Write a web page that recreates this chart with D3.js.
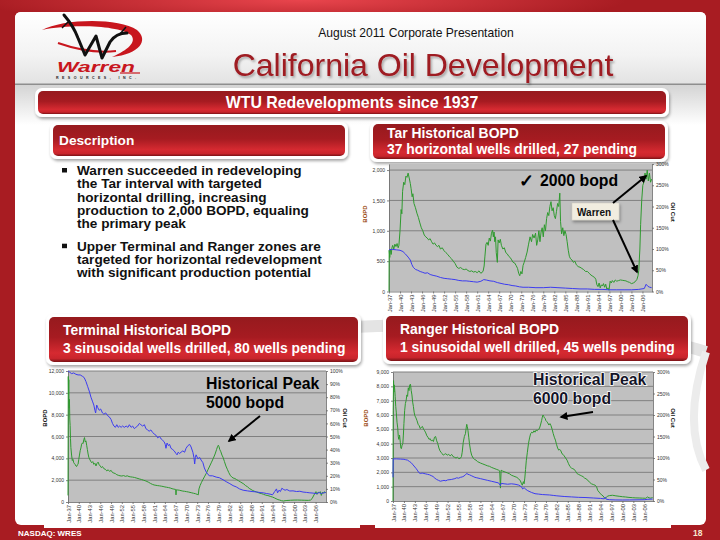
<!DOCTYPE html>
<html><head><meta charset="utf-8">
<script src="https://cdn.jsdelivr.net/npm/d3@7"></script>
<style>
body{margin:0;background:#a81c22}
svg{display:block}
text{font-family:"Liberation Sans",Arial,Helvetica,sans-serif}
</style>
</head><body>
<svg id="s" width="720" height="540"></svg>
<script>
// ---------------- DATA ----------------
const xTickYears = [1937,1940,1943,1946,1949,1952,1955,1958,1961,1964,1967,1970,1973,1976,1979,1982,1985,1988,1991,1994,1997,2000,2003,2006];
const xTickLabels = ["Jan-37","Jan-40","Jan-43","Jan-46","Jan-49","Jan-52","Jan-55","Jan-58","Jan-61","Jan-64","Jan-67","Jan-70","Jan-73","Jan-76","Jan-79","Jan-82","Jan-85","Jan-88","Jan-91","Jan-94","Jan-97","Jan-00","Jan-03","Jan-06"];

const tarLeftTicks = [0,500,1000,1500,2000];
const tarRightTicks = [0,50,100,150,200,250,300];
const termLeftTicks = [0,2000,4000,6000,8000,10000,12000];
const termRightTicks = [0,10,20,30,40,50,60,70,80,90,100];
const rangerLeftTicks = [0,1000,2000,3000,4000,5000,6000,7000,8000,9000];
const rangerRightTicks = [0,50,100,150,200,250,300];

// Tar: [year, BOPD]
const tarBopd = [[1937.0,0],[1937.05,680],[1937.2,560],[1937.4,700],[1937.6,610],[1937.8,720],[1938.0,760],[1938.3,700],[1938.6,780],[1938.9,740],[1939.2,790],[1939.5,720],[1939.7,760],[1940.0,1000],[1940.3,1350],[1940.5,1280],[1940.7,1650],[1941.0,1800],[1941.3,1760],[1941.6,1900],[1941.9,1880],[1942.2,1950],[1942.5,1870],[1942.8,1780],[1943.0,1700],[1943.3,1560],[1943.5,1610],[1943.8,1450],[1944.2,1380],[1944.6,1290],[1945.0,1220],[1945.4,1130],[1945.8,1050],[1946.2,1000],[1946.6,930],[1947.0,900],[1947.4,880],[1947.8,850],[1948.2,870],[1948.6,820],[1949.0,780],[1949.4,800],[1949.8,760],[1950.2,740],[1950.6,760],[1951.0,700],[1951.5,720],[1952.0,670],[1952.5,640],[1953.0,610],[1953.5,570],[1954.0,540],[1954.5,500],[1955.0,460],[1955.5,400],[1956.0,380],[1956.5,395],[1957.0,370],[1957.5,360],[1958.0,370],[1958.5,345],[1959.0,330],[1959.5,340],[1960.0,320],[1960.5,330],[1961.0,310],[1961.5,340],[1962.0,300],[1962.6,330],[1962.9,420],[1963.1,570],[1963.4,780],[1963.7,810],[1964.0,760],[1964.3,880],[1964.6,830],[1964.9,960],[1965.2,1010],[1965.4,900],[1965.6,980],[1965.8,820],[1966.0,900],[1966.2,640],[1966.5,480],[1966.7,850],[1967.0,800],[1967.3,860],[1967.6,760],[1968.0,700],[1968.4,720],[1968.8,640],[1969.2,620],[1969.6,580],[1970.0,560],[1970.4,520],[1970.8,480],[1971.2,470],[1971.6,430],[1972.0,380],[1972.3,300],[1972.6,260],[1972.9,330],[1973.2,290],[1973.5,430],[1973.8,480],[1974.2,560],[1974.6,650],[1975.0,780],[1975.4,900],[1975.8,820],[1976.1,940],[1976.5,880],[1976.9,960],[1977.2,760],[1977.5,850],[1977.8,1000],[1978.1,820],[1978.4,980],[1978.7,1050],[1979.0,900],[1979.3,1100],[1979.6,1000],[1979.9,1200],[1980.2,1300],[1980.5,1250],[1980.8,1400],[1981.1,1480],[1981.4,1330],[1981.7,1380],[1982.0,1250],[1982.3,1200],[1982.6,1320],[1982.9,1450],[1983.2,1400],[1983.5,1620],[1983.7,1150],[1984.0,950],[1984.3,1050],[1984.6,920],[1984.9,1000],[1985.2,940],[1985.5,820],[1985.8,680],[1986.1,580],[1986.4,540],[1986.8,520],[1987.2,480],[1987.6,500],[1988.0,440],[1988.5,410],[1989.0,400],[1989.5,380],[1990.0,360],[1990.5,330],[1991.0,330],[1991.5,300],[1992.0,270],[1992.5,250],[1993.0,230],[1993.3,200],[1993.6,110],[1993.9,80],[1994.2,140],[1994.5,60],[1994.8,110],[1995.1,90],[1995.4,130],[1995.7,70],[1996.0,120],[1996.3,40],[1996.6,60],[1996.9,20],[1997.2,170],[1997.5,140],[1997.8,180],[1998.2,150],[1998.6,190],[1999.0,170],[1999.5,180],[2000.0,190],[2000.5,185],[2001.0,180],[2001.5,175],[2002.0,160],[2002.5,150],[2003.0,130],[2003.5,140],[2004.0,160],[2004.5,200],[2004.8,260],[2005.0,350],[2005.3,700],[2005.5,1100],[2005.8,1500],[2006.1,1750],[2006.4,1800],[2006.7,1950],[2007.0,1850],[2007.3,2000],[2007.6,1820],[2007.9,1950],[2008.2,1800],[2008.5,1850]];
// Tar: [year, oil cut %]
const tarCut = [[1937.02,98],[1938,99],[1939,98],[1940,97],[1940.8,94],[1941.5,88],[1942.2,81],[1942.8,74],[1943.2,64],[1943.6,57],[1944.2,52],[1944.8,50],[1945.5,47],[1946.2,45],[1946.8,43],[1947.5,44],[1948.2,40],[1949,38],[1950,36],[1951,33],[1952,31],[1953,30],[1954,29],[1955,28],[1956,26],[1957,25],[1958,25],[1959,24],[1960,23],[1961,22],[1962,24],[1962.8,28],[1963.5,27],[1964.5,25],[1965.5,24],[1966.5,21],[1967.5,19],[1968.5,17],[1969.5,16],[1970.5,14],[1971.5,13],[1972.5,11],[1973.5,10],[1975,10],[1977,9],[1979,9],[1981,10],[1983,9],[1985,8],[1987,7],[1989,6],[1991,6],[1993,5],[1995,5],[1997,4],[1999,4],[2001,4],[2003,4],[2005,5],[2006.5,7],[2007,17],[2007.5,12],[2008,10],[2008.5,9]];

// Terminal: [year, BOPD]
const termBopd = [[1937.0,600],[1937.08,11500],[1937.15,9800],[1937.22,11200],[1937.3,8600],[1937.4,9400],[1937.5,7600],[1937.6,7000],[1937.7,5800],[1937.8,5000],[1938.0,4300],[1938.2,3800],[1938.4,3900],[1938.6,3600],[1938.8,3500],[1939.0,3450],[1939.2,3300],[1939.4,3250],[1939.6,3400],[1939.8,3450],[1940.0,3900],[1940.2,4300],[1940.4,4700],[1940.6,4950],[1940.8,5300],[1941.0,5400],[1941.2,5350],[1941.4,5700],[1941.6,5900],[1941.8,5500],[1942.0,5600],[1942.2,5200],[1942.4,4800],[1942.6,4400],[1942.8,4100],[1943.0,3950],[1943.3,3750],[1943.6,3600],[1943.9,3700],[1944.2,3450],[1944.5,3550],[1944.8,3300],[1945.1,3550],[1945.4,3650],[1945.7,3400],[1946.0,3300],[1946.3,3150],[1946.6,3250],[1947.0,3050],[1947.4,3000],[1947.8,2850],[1948.2,2950],[1948.6,2800],[1949.0,2900],[1949.4,2700],[1949.8,2650],[1950.2,2600],[1950.6,2500],[1951.0,2450],[1951.5,2400],[1952.0,2380],[1952.5,2420],[1953.0,2350],[1953.5,2400],[1954.0,2330],[1954.5,2300],[1955.0,2280],[1955.5,2250],[1956.0,2200],[1956.5,2150],[1957.0,2100],[1957.5,2060],[1958.0,2000],[1958.5,1950],[1959.0,1880],[1959.5,1800],[1960.0,1700],[1960.5,1620],[1961.0,1560],[1961.5,1530],[1962.0,1500],[1962.5,1480],[1963.0,1450],[1963.5,1420],[1964.0,1380],[1964.5,1350],[1965.0,1320],[1965.5,1280],[1966.0,1220],[1966.5,1180],[1967.0,1150],[1967.1,650],[1967.2,1120],[1967.6,1100],[1968.0,1080],[1968.5,1040],[1969.0,1000],[1969.5,980],[1970.0,950],[1970.5,920],[1971.0,880],[1971.5,840],[1972.0,800],[1972.5,760],[1973.0,700],[1973.3,650],[1973.5,1200],[1973.8,1500],[1974.2,1800],[1974.6,2050],[1975.0,2300],[1975.5,2600],[1976.0,2950],[1976.5,3300],[1977.0,3650],[1977.5,4000],[1978.0,4400],[1978.4,4800],[1978.7,5100],[1978.9,5200],[1979.1,5050],[1979.3,4800],[1979.6,4600],[1979.9,4300],[1980.2,4100],[1980.6,3700],[1981.0,3300],[1981.4,3000],[1981.8,2700],[1982.2,2450],[1982.6,2300],[1983.0,2200],[1983.5,2150],[1984.0,2050],[1984.5,1950],[1985.0,1850],[1985.5,1750],[1986.0,1650],[1986.5,1500],[1987.0,1400],[1987.5,1250],[1988.0,1150],[1988.5,1050],[1989.0,980],[1989.5,920],[1990.0,860],[1990.5,800],[1991.0,760],[1991.5,700],[1992.0,640],[1992.5,600],[1993.0,560],[1993.5,500],[1994.0,450],[1994.5,380],[1995.0,300],[1995.5,220],[1996.0,180],[1996.5,120],[1997.0,90],[1997.5,120],[1998.0,140],[1999.0,160],[2000.0,175],[2001.0,180],[2002.0,170],[2003.0,160],[2004.0,150],[2004.6,180],[2005.0,300],[2005.4,550],[2005.8,800],[2006.1,950],[2006.4,700],[2006.7,900],[2007.0,850],[2007.3,950],[2007.6,600],[2007.9,900],[2008.2,800],[2008.5,950],[2008.8,850]];
// Terminal: [year, oil cut %]
const termCut = [[1937.0,100],[1937.5,99],[1938.0,98],[1938.6,98.5],[1939.2,97.5],[1939.8,97],[1940.4,97],[1941.0,96],[1941.5,95],[1942.0,92],[1942.5,88],[1943.0,84],[1943.4,80],[1943.8,77],[1944.2,74],[1944.5,70],[1944.7,68],[1945.0,74],[1945.3,72],[1945.7,70],[1946.1,71],[1946.6,68],[1947.0,67],[1947.5,68],[1948.0,66],[1948.5,65],[1949.0,63],[1949.4,60],[1949.8,58],[1950.2,57],[1950.6,59],[1951.0,57],[1951.4,58],[1951.8,57],[1952.2,58],[1952.7,57],[1953.2,58],[1953.7,57],[1954.1,59],[1954.6,57],[1955.0,58],[1955.5,56],[1955.9,57],[1956.4,58],[1956.9,60],[1957.3,59],[1957.8,58],[1958.3,59],[1958.7,56],[1959.2,55],[1959.6,54],[1960.1,55],[1960.6,53],[1961.0,52],[1961.5,51],[1962.0,49],[1962.5,50],[1963.0,48],[1963.4,47],[1963.8,46],[1964.1,44],[1964.3,41],[1964.6,45],[1965.0,43],[1965.3,44],[1965.7,41],[1966.2,40],[1966.6,39],[1967.1,37],[1967.4,36],[1967.7,38],[1968.1,37],[1968.5,38],[1969.0,39],[1969.5,38],[1969.9,41],[1970.4,43],[1970.9,44],[1971.3,42],[1971.8,38],[1972.1,34],[1972.3,29],[1972.5,34],[1972.7,36],[1973.2,33],[1973.7,34],[1974.1,32],[1974.6,30],[1975.0,26],[1975.5,23],[1976.0,21],[1976.5,20],[1977.3,20],[1978.3,19],[1979.2,18.5],[1980.2,17],[1981.1,15.5],[1982.1,14],[1983.0,12.5],[1983.9,11.5],[1984.8,10],[1985.8,9],[1987.0,8.5],[1988.3,8],[1989.5,7.7],[1990.5,7.2],[1991.4,7],[1992.3,6.5],[1993.3,6],[1994.0,5.5],[1994.6,8],[1995.1,10],[1995.4,7],[1995.8,9],[1996.2,8],[1996.6,10.5],[1997.0,9.7],[1997.5,9],[1998.0,9.5],[1998.8,8.4],[1999.7,8.5],[2000.7,8],[2001.6,8.2],[2002.5,7.6],[2003.5,7.3],[2004.4,7],[2005.3,6.8],[2006.3,6.4],[2007.0,7.2],[2007.6,6.5],[2008.2,7],[2008.8,7.2]];

// Ranger: [year, BOPD]
const rangerBopd = [[1937.0,0],[1937.05,6300],[1937.15,8400],[1937.25,7600],[1937.35,8100],[1937.5,7700],[1937.6,7300],[1937.75,6600],[1937.9,6200],[1938.1,5500],[1938.3,5100],[1938.45,4500],[1938.6,4300],[1938.8,4600],[1939.0,4100],[1939.15,3700],[1939.3,3650],[1939.5,3900],[1939.7,4000],[1939.85,4600],[1940.0,5400],[1940.2,6300],[1940.4,6800],[1940.6,7000],[1940.8,7400],[1941.0,7300],[1941.2,7900],[1941.4,7700],[1941.6,8100],[1941.8,8150],[1942.0,7700],[1942.2,7400],[1942.4,6900],[1942.6,6600],[1942.8,6200],[1943.0,5950],[1943.3,5800],[1943.6,5600],[1943.9,5350],[1944.2,5250],[1944.5,5050],[1944.8,5150],[1945.1,5200],[1945.4,5000],[1945.7,4900],[1946.0,4750],[1946.3,4550],[1946.6,4450],[1946.9,4300],[1947.2,4350],[1947.5,4200],[1947.8,4250],[1948.1,4150],[1948.4,4450],[1948.7,4500],[1949.0,4200],[1949.3,4000],[1949.6,3700],[1949.9,3500],[1950.2,3400],[1950.5,3300],[1950.8,3200],[1951.1,3250],[1951.5,3300],[1951.9,3200],[1952.3,3250],[1952.7,3150],[1953.1,3250],[1953.5,3100],[1953.9,3050],[1954.3,3000],[1954.7,3050],[1955.1,2950],[1955.5,2980],[1955.8,3100],[1956.0,3400],[1956.3,4100],[1956.6,4500],[1956.9,4700],[1957.1,5100],[1957.25,5350],[1957.4,5200],[1957.6,4900],[1957.8,4450],[1958.0,4000],[1958.3,3500],[1958.6,3200],[1959.0,3000],[1959.4,2900],[1959.8,2850],[1960.2,2750],[1960.6,2700],[1961.0,2650],[1961.5,2600],[1962.0,2550],[1962.5,2500],[1963.0,2450],[1963.5,2420],[1964.0,2350],[1964.5,2300],[1965.0,2250],[1965.5,2200],[1966.0,2150],[1966.3,2100],[1966.5,900],[1966.7,2150],[1967.0,2100],[1967.5,2050],[1968.0,2000],[1968.5,1950],[1969.0,1900],[1969.5,1800],[1970.0,1750],[1970.5,1700],[1971.0,1650],[1971.5,1550],[1972.0,1400],[1972.3,1200],[1972.5,1100],[1972.8,1350],[1973.0,1200],[1973.2,1600],[1973.4,2200],[1973.6,2800],[1973.9,3400],[1974.2,4000],[1974.5,4400],[1974.8,4700],[1975.1,4800],[1975.4,4750],[1975.7,4900],[1976.0,4800],[1976.3,4950],[1976.6,4900],[1976.9,5000],[1977.2,5050],[1977.5,5300],[1977.8,5600],[1978.0,5850],[1978.2,6000],[1978.4,5900],[1978.6,5800],[1978.8,5750],[1979.0,5600],[1979.2,5550],[1979.5,5450],[1979.8,5300],[1980.1,5400],[1980.4,5250],[1980.7,5000],[1981.0,4700],[1981.3,4450],[1981.6,4250],[1981.9,3950],[1982.2,3700],[1982.5,3550],[1982.8,3600],[1983.1,3500],[1983.4,3300],[1983.7,3250],[1984.0,3150],[1984.4,3000],[1984.8,2850],[1985.2,2600],[1985.6,2400],[1986.0,2300],[1986.4,2250],[1986.8,2200],[1987.2,2050],[1987.6,1900],[1988.0,1850],[1988.4,1800],[1988.8,1750],[1989.2,1700],[1989.6,1600],[1990.0,1550],[1990.5,1450],[1991.0,1300],[1991.5,1200],[1992.0,1150],[1992.5,1100],[1992.9,1000],[1993.2,750],[1993.6,620],[1994.0,500],[1994.3,420],[1994.7,350],[1995.0,230],[1995.3,170],[1995.6,260],[1995.9,340],[1996.5,380],[1997.3,400],[1998.2,360],[1999.1,330],[2000.0,300],[2000.9,280],[2001.8,250],[2002.8,230],[2003.7,215],[2004.6,210],[2005.5,200],[2006.4,190],[2006.9,280],[2007.3,220],[2007.8,200],[2008.3,240]];
// Ranger: [year, oil cut %]
const rangerCut = [[1937.0,55],[1937.05,98],[1938,98],[1939,97.5],[1940,97],[1940.5,96],[1941.0,95],[1941.5,92],[1942.0,89],[1942.5,84],[1943.0,79],[1943.4,75],[1943.8,70],[1944.1,66],[1944.5,64],[1945.0,65],[1945.5,64],[1946.0,63],[1946.5,62],[1947.0,61],[1947.5,59],[1948.0,57],[1948.5,53],[1949.0,50],[1949.5,48],[1950.0,46],[1950.5,47],[1951.0,48],[1951.5,47],[1952.0,49],[1953.0,50],[1954.0,52],[1954.5,54],[1955.0,53],[1955.5,55],[1956.0,56],[1956.5,58],[1957.0,62],[1957.3,64],[1957.6,62],[1958.0,61],[1958.5,59],[1959.0,57],[1959.5,55],[1960.0,54],[1961.0,52],[1962.0,50],[1963.0,48],[1964.0,46],[1965.0,44],[1966.0,42],[1966.5,36],[1966.7,41],[1967.5,40],[1968.5,39],[1969.5,40],[1970.5,39],[1971.5,37],[1972.3,33],[1972.6,28],[1973.0,31],[1973.5,27],[1974.0,24],[1975.0,20],[1976.0,17],[1977.0,16],[1978.0,15],[1979.0,14.5],[1980.0,14],[1981.0,13],[1982.0,12],[1984.0,10.5],[1986.0,9.5],[1988.0,8.5],[1990.0,8],[1992.0,7],[1994.0,6],[1995.0,5],[1995.3,9],[1995.6,4],[1996.5,3],[1998.0,2.5],[2000.0,2.3],[2002.0,2.5],[2004.0,2.7],[2006.0,3],[2007.0,4],[2008.3,4.5]];

const bulletLines1 = ["Warren succeeded in redeveloping","the Tar interval with targeted","horizontal drilling, increasing","production to 2,000 BOPD, equaling","the primary peak"];
const bulletLines2 = ["Upper Terminal and Ranger zones are","targeted for horizontal redevelopment","with significant production potential"];

// ---------------- DRAWING ----------------
const svg = d3.select("#s");
const defs = svg.append("defs");
const FONT = '"Liberation Sans",Arial,Helvetica,sans-serif';

const bgG = defs.append("radialGradient").attr("id","bgHi").attr("cx",0.42).attr("cy",0).attr("r",0.45);
bgG.append("stop").attr("offset",0).attr("stop-color","#e9454d");
bgG.append("stop").attr("offset",1).attr("stop-color","#a81c22");

const rg = defs.append("linearGradient").attr("id","rg").attr("x1",0).attr("y1",0).attr("x2",0).attr("y2",1);
[[0,"#961a1e"],[0.45,"#a61b21"],[0.8,"#d62a31"],[0.92,"#c9252c"],[1,"#7a1216"]].forEach(s=>rg.append("stop").attr("offset",s[0]).attr("stop-color",s[1]));

const hg = defs.append("linearGradient").attr("id","hg").attr("x1",0).attr("y1",0).attr("x2",0).attr("y2",1);
[[0,"#ffffff"],[0.6,"#f3f3f3"],[1,"#e2e2e2"]].forEach(s=>hg.append("stop").attr("offset",s[0]).attr("stop-color",s[1]));
const sg = defs.append("linearGradient").attr("id","sg").attr("x1",0).attr("y1",0).attr("x2",0).attr("y2",1);
[[0,"#d4d4d4"],[1,"#ffffff"]].forEach(s=>sg.append("stop").attr("offset",s[0]).attr("stop-color",s[1]));

const sh = defs.append("filter").attr("id","shadow").attr("x",-0.1).attr("y",-0.3).attr("width",1.2).attr("height",1.7);
sh.append("feDropShadow").attr("dx",1).attr("dy",2).attr("stdDeviation",1.5).attr("flood-color","#000").attr("flood-opacity",0.35);
const tsh = defs.append("filter").attr("id","tshadow").attr("x",-0.1).attr("y",-0.3).attr("width",1.2).attr("height",1.7);
tsh.append("feDropShadow").attr("dx",1.5).attr("dy",2).attr("stdDeviation",1.2).attr("flood-color","#000").attr("flood-opacity",0.3);

defs.append("marker").attr("id","arr").attr("viewBox","0 0 10 10").attr("refX",8).attr("refY",5)
  .attr("markerWidth",4).attr("markerHeight",4).attr("orient","auto")
  .append("path").attr("d","M0,0 L10,5 L0,10 z").attr("fill","#000");

// background
svg.append("rect").attr("width",720).attr("height",540).attr("fill","#a81c22");
svg.append("rect").attr("width",720).attr("height",60).attr("fill","url(#bgHi)");

// panel
svg.append("rect").attr("x",15).attr("y",12).attr("width",691).attr("height",513).attr("rx",6).attr("fill","#ffffff");
svg.append("path").attr("d","M15,84 L15,18 Q15,12 21,12 L700,12 Q706,12 706,18 L706,84 Z").attr("fill","url(#hg)");
svg.append("rect").attr("x",15).attr("y",85).attr("width",691).attr("height",40).attr("fill","url(#sg)");
svg.append("rect").attr("x",15).attr("y",83.5).attr("width",691).attr("height",1.5).attr("fill","#8e8e8e");

// grey swoosh
svg.append("path").attr("d","M150,342 C380,318 600,318 706,352").attr("fill","none").attr("stroke","#e4e4e4").attr("stroke-width",12);
svg.append("path").attr("d","M706,352 C690,400 690,440 706,470").attr("fill","none").attr("stroke","#ececec").attr("stroke-width",8);

// logo
const logo = svg.append("g");
logo.append("path").attr("d","M42,30 C62,19 118,17 137,30 C149,40 140,54 112,57 C128,50 137,42 131,35 C118,25 70,24 42,30 Z").attr("fill","#c8161e");
logo.append("path").attr("d","M58,43 C78,50 98,53 116,51").attr("fill","none").attr("stroke","#c8161e").attr("stroke-width",2);
logo.append("path").attr("d","M64,15 C70,22 75,30 78,38 L85,55 L96,36 L102,58 L110,42 C114,36 119,33 127,33").attr("fill","none").attr("stroke","#111").attr("stroke-width",3).attr("stroke-linejoin","round").attr("stroke-linecap","round");
logo.append("path").attr("d","M68,22 L62,28 M120,34 L126,27").attr("stroke","#111").attr("stroke-width",1.5);
logo.append("text").attr("x",57).attr("y",72).attr("font-size",15).attr("font-weight","bold").attr("font-style","italic")
  .attr("fill","#c8161e").attr("textLength",78).attr("lengthAdjust","spacingAndGlyphs").text("Warren");
logo.append("path").attr("d","M120,73 L140,73").attr("stroke","#c8161e").attr("stroke-width",1.2);
logo.append("text").attr("x",56).attr("y",78.5).attr("font-size",3.6).attr("font-weight","bold").attr("fill","#222")
  .attr("textLength",80).attr("lengthAdjust","spacing").text("RESOURCES, INC.");

// headings
svg.append("text").attr("x",416).attr("y",37).attr("text-anchor","middle").attr("font-size",12.1).attr("fill","#111").text("August 2011 Corporate Presentation");
svg.append("text").attr("x",423).attr("y",76).attr("text-anchor","middle").attr("font-size",32).attr("fill","#9e1a20")
  .attr("filter","url(#tshadow)").text("California Oil Development");

function titleBox(x,y,w,h){
  svg.append("rect").attr("x",x-3).attr("y",y-3).attr("width",w+6).attr("height",h+6).attr("rx",7).attr("fill","#fff").attr("filter","url(#shadow)");
  svg.append("rect").attr("x",x).attr("y",y).attr("width",w).attr("height",h).attr("rx",5).attr("fill","url(#rg)");
}
titleBox(38,91,628,23);
svg.append("text").attr("x",352).attr("y",108).attr("text-anchor","middle").attr("font-size",15.9).attr("font-weight","bold").attr("fill","#fff").text("WTU Redevelopments since 1937");

titleBox(53,125,292,31);
svg.append("text").attr("x",59).attr("y",145).attr("font-size",13.7).attr("font-weight","bold").attr("fill","#fff").text("Description");

// bullets
function bullet(lines, y0){
  svg.append("rect").attr("x",62).attr("y",y0-7).attr("width",5).attr("height",4.5).attr("fill","#111");
  lines.forEach((t,i)=>svg.append("text").attr("x",77).attr("y",y0+i*13.35).attr("font-size",13.6).attr("font-weight","bold").attr("fill","#111").text(t));
}
bullet(bulletLines1,175);
bullet(bulletLines2,250.7);

// chart white boxes
svg.append("rect").attr("x",360).attr("y",160).attr("width",330).attr("height",156).attr("fill","#fff");
svg.append("rect").attr("x",44).attr("y",364).attr("width",316).attr("height",164).attr("fill","#fff");
svg.append("rect").attr("x",375).attr("y",364).attr("width",296).attr("height",164).attr("fill","#fff");

titleBox(373,124,292,35);
svg.append("text").attr("x",387).attr("y",137.5).attr("font-size",13.9).attr("font-weight","bold").attr("fill","#fff").text("Tar Historical BOPD");
svg.append("text").attr("x",387).attr("y",153.5).attr("font-size",13.9).attr("font-weight","bold").attr("fill","#fff").text("37 horizontal wells drilled, 27 pending");

titleBox(49,317,309,45);
svg.append("text").attr("x",63).attr("y",335).attr("font-size",13.9).attr("font-weight","bold").attr("fill","#fff").text("Terminal Historical BOPD");
svg.append("text").attr("x",63).attr("y",353).attr("font-size",13.9).attr("font-weight","bold").attr("fill","#fff").text("3 sinusoidal wells drilled, 80 wells pending");

titleBox(386,316,302,45);
svg.append("text").attr("x",400).attr("y",334).attr("font-size",13.9).attr("font-weight","bold").attr("fill","#fff").text("Ranger Historical BOPD");
svg.append("text").attr("x",400).attr("y",352).attr("font-size",13.9).attr("font-weight","bold").attr("fill","#fff").text("1 sinusoidal well drilled, 45 wells pending");

// chart drawing
function drawChart(c){
  const g = svg.append("g");
  const x = d3.scaleLinear().domain(c.xDomain).range([c.left,c.right]);
  const yL = d3.scaleLinear().domain([0,c.leftMax]).range([c.bottom,c.top]);
  const yR = d3.scaleLinear().domain([0,c.rightMax]).range([c.bottom,c.top]);
  g.append("rect").attr("x",c.left).attr("y",c.top).attr("width",c.right-c.left).attr("height",c.bottom-c.top).attr("fill","#c0c0c0");
  g.selectAll("line.grid").data(c.leftTicks.filter(t=>t>0)).join("line").attr("class","grid")
    .attr("x1",c.left).attr("x2",c.right).attr("y1",d=>yL(d)).attr("y2",d=>yL(d)).attr("stroke","#808080").attr("stroke-width",1);

  const styleAxis = (a,fs)=>{
    a.selectAll("path").attr("stroke","#666").attr("stroke-width",0.8);
    a.selectAll("line").attr("stroke","#666").attr("stroke-width",0.8);
    a.selectAll("text").attr("font-size",fs).attr("fill","#333").attr("font-family",FONT);
  };
  const la = g.append("g").attr("transform",`translate(${c.left},0)`)
    .call(d3.axisLeft(yL).tickValues(c.leftTicks).tickFormat(d3.format(",")).tickSize(2).tickSizeOuter(0).tickPadding(2));
  styleAxis(la,5);
  const ra = g.append("g").attr("transform",`translate(${c.right},0)`)
    .call(d3.axisRight(yR).tickValues(c.rightTicks).tickFormat(d=>d+"%").tickSize(2).tickSizeOuter(0).tickPadding(2));
  styleAxis(ra,5);
  const ba = g.append("g").attr("transform",`translate(0,${c.bottom})`)
    .call(d3.axisBottom(x).tickValues(xTickYears).tickFormat((d,i)=>xTickLabels[i]).tickSize(2).tickSizeOuter(0));
  styleAxis(ba,5.8);
  ba.selectAll("text").attr("transform","rotate(-90)").attr("x",-3).attr("y",0).attr("dy","0.35em").attr("text-anchor","end");

  const lineL = d3.line().x(d=>x(d[0])).y(d=>yL(d[1]));
  const lineR = d3.line().x(d=>x(d[0])).y(d=>yR(d[1]));
  g.append("path").datum(c.bopd).attr("d",lineL).attr("fill","none").attr("stroke","#2f9a2f").attr("stroke-width",1);
  g.append("path").datum(c.cut).attr("d",lineR).attr("fill","none").attr("stroke","#3c3cf0").attr("stroke-width",1);

  g.append("text").attr("transform",`translate(${c.bopdLab[0]},${c.bopdLab[1]}) rotate(-90)`).attr("text-anchor","middle").attr("dy","0.35em")
    .attr("font-size",6).attr("font-weight","bold").attr("fill",c.bopdColor).text("BOPD");
  g.append("text").attr("transform",`translate(${c.cutLab[0]},${c.cutLab[1]}) rotate(90)`).attr("text-anchor","middle").attr("dy","0.35em")
    .attr("font-size",6).attr("font-weight","bold").attr("fill","#111").text("Oil Cut");
}

drawChart({left:389,right:652,top:164,bottom:291.5,xDomain:[1937,2008.6],leftMax:2100,rightMax:300,
  leftTicks:tarLeftTicks,rightTicks:tarRightTicks,bopd:tarBopd,cut:tarCut,bopdLab:[365,214],cutLab:[673,212],bopdColor:"#9a4a10"});
drawChart({left:68,right:326,top:371,bottom:502,xDomain:[1937,2008.9],leftMax:12000,rightMax:100,
  leftTicks:termLeftTicks,rightTicks:termRightTicks,bopd:termBopd,cut:termCut,bopdLab:[45,418],cutLab:[345,418],bopdColor:"#111"});
drawChart({left:393,right:653,top:372,bottom:501,xDomain:[1937,2008.4],leftMax:9000,rightMax:300,
  leftTicks:rangerLeftTicks,rightTicks:rangerRightTicks,bopd:rangerBopd,cut:rangerCut,bopdLab:[366,418],cutLab:[673,418],bopdColor:"#9a4a10"});

// annotations
svg.append("text").attr("x",519).attr("y",187).attr("font-size",18).attr("font-weight","bold").attr("font-family","'DejaVu Sans',sans-serif").attr("fill","#000").text("\u2713");
svg.append("text").attr("x",540).attr("y",186).attr("font-size",15.8).attr("font-weight","bold").attr("fill","#000").text("2000 bopd");
svg.append("rect").attr("x",572).attr("y",203).attr("width",47).attr("height",17).attr("fill","#f1ede0").attr("stroke","#d0ccc0").attr("stroke-width",0.5).attr("filter","url(#shadow)");
svg.append("text").attr("x",577).attr("y",216).attr("font-size",10).attr("font-weight","bold").attr("fill","#111").text("Warren");
const arrow=(x1,y1,x2,y2)=>svg.append("line").attr("x1",x1).attr("y1",y1).attr("x2",x2).attr("y2",y2).attr("stroke","#000").attr("stroke-width",2).attr("marker-end","url(#arr)");
arrow(613,203,646,176);
arrow(613,220,637,272);

svg.append("text").attr("x",206).attr("y",389).attr("font-size",15.8).attr("font-weight","bold").attr("fill","#000").text("Historical Peak");
svg.append("text").attr("x",206).attr("y",408).attr("font-size",15.8).attr("font-weight","bold").attr("fill","#000").text("5000 bopd");
arrow(260,416,229,441);

["Historical Peak","6000 bopd"].forEach((t,i)=>svg.append("text").attr("x",533).attr("y",385+i*19).attr("font-size",15.8).attr("font-weight","bold")
  .attr("fill","#141428").attr("stroke","#fff").attr("stroke-width",1.5).attr("paint-order","stroke").text(t));
arrow(593,412,561,417);

// footer
svg.append("text").attr("x",18).attr("y",536).attr("font-size",8).attr("font-weight","bold").attr("fill","#fff").text("NASDAQ: WRES");
svg.append("text").attr("x",693).attr("y",536).attr("font-size",8.5).attr("font-weight","bold").attr("fill","#f6e8d0").text("18");
</script>
</body></html>
